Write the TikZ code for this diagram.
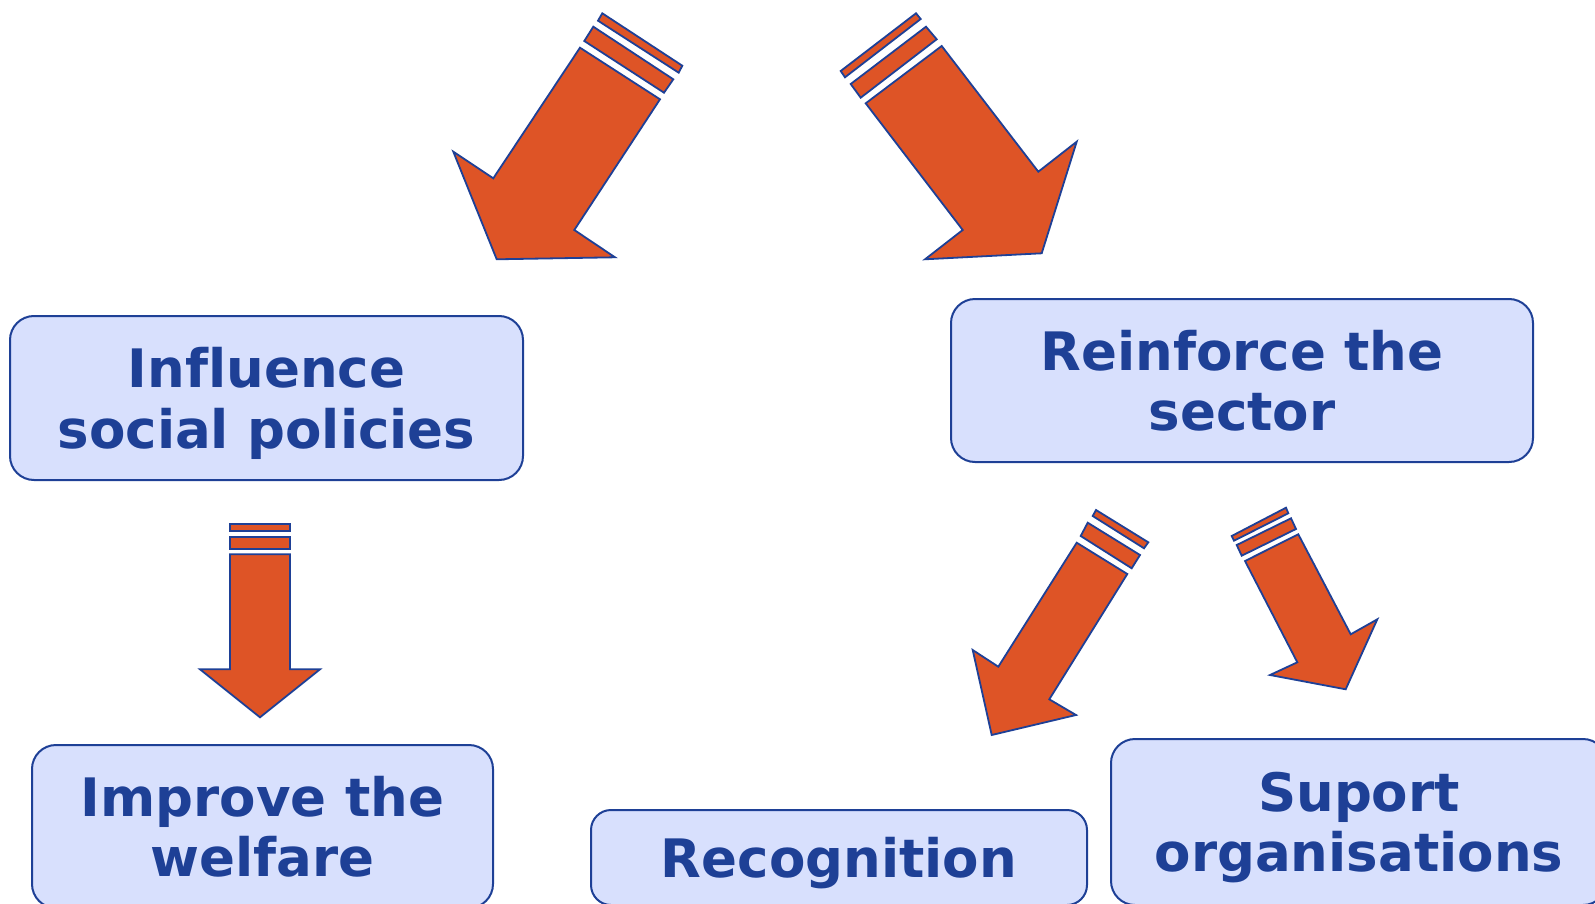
\documentclass[tikz,border=0pt]{standalone}
\usepackage{fontspec}
\setmainfont{DejaVu Sans}[Ligatures=CommonOff]
\definecolor{boxfill}{RGB}{216,224,253}
\definecolor{inkblue}{RGB}{30,64,150}
\definecolor{arrowfill}{RGB}{222,84,38}

\begin{document}
\begin{tikzpicture}[x=0.5pt, y=-0.5pt,
    goal/.style={draw=inkblue, line width=1pt, fill=boxfill, rounded corners=12pt,
        inner sep=0pt, align=center, text=inkblue, text depth=0pt,
        font=\bfseries\fontsize{26.5}{30.3}\selectfont},
    blockarrow/.style={draw=inkblue, line width=0.9pt, fill=arrowfill}]
    \useasboundingbox (0,0) rectangle (1595,904);
    \clip (0,0) rectangle (1595,904);

    % goals
    \node[goal, minimum width=256.5pt, minimum height=82pt] (policies) at (266.5,398) {Influence\\social policies};
    \node[goal, minimum width=291pt, minimum height=81.5pt] (sector) at (1242,380.5) {Reinforce the\\sector};
    \node[goal, minimum width=230.5pt, minimum height=81.5pt] (welfare) at (262.5,826.5) {Improve the\\welfare};
    \node[goal, minimum width=248pt, minimum height=47.5pt, rounded corners=10pt] (recognition) at (839,857.5) {Recognition};
    \node[goal, minimum width=248pt, minimum height=83pt] (support) at (1359,822) {Suport\\organisations};

    % arrow to policies
    \draw[blockarrow] (602.3,13.3) -- (682.3,65.7) -- (678.7,72.7) -- (598,20.7) -- cycle;
    \draw[blockarrow] (593.3,26.7) -- (673.3,79.3) -- (664,92.7) -- (584.3,41) -- cycle;
    \draw[blockarrow] (580,47.7) -- (660,99.3) -- (574.3,230) -- (615,257.3)
        -- (496.7,259.3) -- (453.3,151.7) -- (493.3,178.3) -- cycle;

    % arrow to sector
    \draw[blockarrow] (840.7,71) -- (916,13.3) -- (920.7,19) -- (845,77.3) -- cycle;
    \draw[blockarrow] (850.7,84) -- (926,26.7) -- (936.7,39.3) -- (860.7,97.7) -- cycle;
    \draw[blockarrow] (865.7,103.3) -- (941.7,46) -- (1038.3,171.7) -- (1076.7,141.7)
        -- (1041.7,253.3) -- (925,259.3) -- (962.7,230) -- cycle;

    % arrow to welfare
    \draw[blockarrow] (230,524.3) rectangle (290,531);
    \draw[blockarrow] (230,536.7) rectangle (290,549);
    \draw[blockarrow] (230,554.3) -- (290,554.3) -- (290,669.3) -- (320,669.3)
        -- (260,717.3) -- (200,669.3) -- (230,669.3) -- cycle;

    % arrow to recognition
    \draw[blockarrow] (1096,510) -- (1148.3,542.3) -- (1144,548.3) -- (1092.7,516) -- cycle;
    \draw[blockarrow] (1087.7,522.7) -- (1140,555) -- (1131.7,568.3) -- (1080.7,536) -- cycle;
    \draw[blockarrow] (1076.7,542.7) -- (1127.3,574) -- (1049.3,699.3) -- (1076,715)
        -- (991.7,735) -- (972.7,650) -- (998.3,666.7) -- cycle;

    % arrow to support
    \draw[blockarrow] (1231.7,536) -- (1286,507.7) -- (1288.3,513.3) -- (1234,540.7) -- cycle;
    \draw[blockarrow] (1236.7,545) -- (1291,518.3) -- (1296,529) -- (1241.7,555.7) -- cycle;
    \draw[blockarrow] (1245,561) -- (1298.3,534.3) -- (1350.7,634.3) -- (1377.3,619.3)
        -- (1345.7,689.3) -- (1270,675) -- (1297.3,662.3) -- cycle;
\end{tikzpicture}
\end{document}
